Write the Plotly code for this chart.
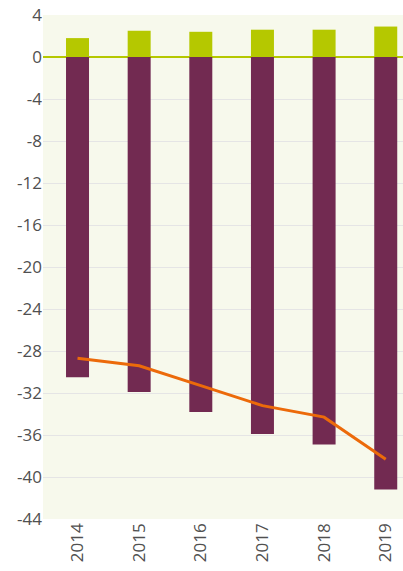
import plotly.graph_objects as go

years = ["2014", "2015", "2016", "2017", "2018", "2019"]
positive = [1.8, 2.5, 2.4, 2.6, 2.6, 2.9]
negative = [-30.5, -31.9, -33.8, -35.9, -36.9, -41.2]
line_vals = [-28.7, -29.4, -31.3, -33.2, -34.3, -38.3]
y_ticks = [4, 0, -4, -8, -12, -16, -20, -24, -28, -32, -36, -40, -44]
y_tick_text = [str(v) for v in y_ticks]

fig = go.Figure()
fig.add_trace(go.Bar(x=years, y=positive, marker=dict(color="#b5c800", line=dict(width=0)),
                     width=0.373, showlegend=False))
fig.add_trace(go.Bar(x=years, y=negative, marker=dict(color="#722a51", line=dict(width=0)),
                     width=0.373, showlegend=False))
fig.add_trace(go.Scatter(x=years, y=line_vals, mode="lines",
                         line=dict(color="#ec6a0a", width=3), showlegend=False))

fig.update_layout(
    width=403, height=571,
    margin=dict(l=43, r=0, t=15, b=52, autoexpand=False),
    barmode="relative",
    paper_bgcolor="white",
    plot_bgcolor="#f7f9ec",
    font=dict(family="Open Sans", color="#505050", size=17),
    xaxis=dict(type="category", range=[-0.56, 5.28], tickangle=-90, automargin=False,
               showgrid=False, ticks="", tickfont=dict(size=17)),
    yaxis=dict(range=[-44, 4], tickvals=y_ticks, ticktext=y_tick_text, automargin=False,
               showgrid=True, gridcolor="#e5e5e5", gridwidth=1, zeroline=True,
               zerolinecolor="#b5c800", zerolinewidth=1.5, ticks="",
               tickfont=dict(size=17)),
)
fig.write_html(
    "out.html",
    config={"displayModeBar": False},
    post_script="document.body.style.margin='0';document.body.style.overflow='hidden';",
)
